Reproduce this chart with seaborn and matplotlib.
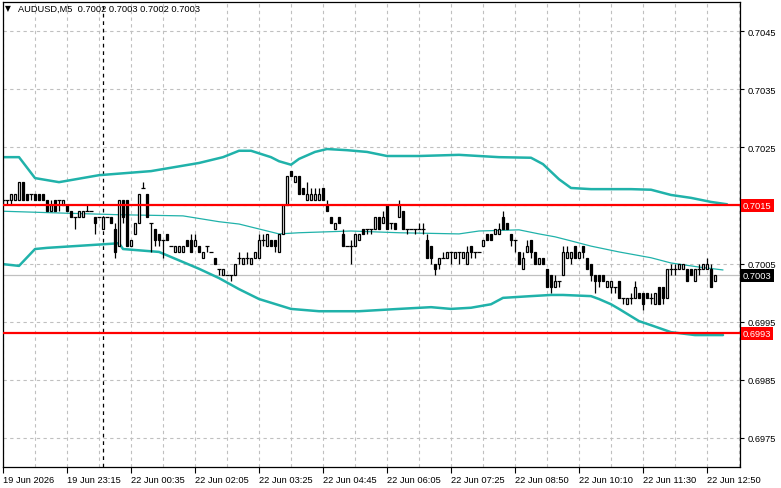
import numpy as np
import pandas as pd
import matplotlib
matplotlib.use("Agg")
import matplotlib.pyplot as plt
import seaborn as sns
from matplotlib.transforms import blended_transform_factory

# AUDUSD M5 candles, values in pips above 0.7000 (one entry per bar)
opens = [16,16,16,16,16,19,17,17,17,17, 17,16,14,16,16,15,15,14,13,13,
         13,14,14,13,13,11,13,13,11,8, 16,16,8,10,12,18,17,12,11,10,
         9,10,8,7,7,7,9,9,8,8, 6,8,7,6,4,3,3,3,3,6,
         5,6,5,6,6,9,8,9,9,7, 10,15,21,19,20,18,16,16,16,16,
         18,15,13,11,13,10,8,8,8,9, 11,11,11,11,13,12,15,12,12,13,
         14,11,11,11,11,11,9,8,5,5, 6,6,7,6,7,6,5,8,7,7,
         8,10,10,10,10,13,12,10,9,7, 4,7,9,7,5,6,4,3,1,2,
         3,6,6,8,6,8,6,5,3,3, 3,1,1,1,2,-1,-2,-1,-1,0,
         0,0,-1,-2,1,1,-1,4,4,4, 4,4,4,2,4,4,4,4,2]
highs = [16,16,17,17,19,19,17,17,17,17, 17,16,16,16,16,16,15,14,13,14,
         14,15,14,13,13,13,13,13,12,16, 16,16,9,12,17,19,17,12,11,10,
         9,10,8,8,8,8,9,10,10,8, 7,8,7,6,4,4,3,3,5,7,
         6,7,6,7,10,10,10,9,9,10, 15,20,21,20,20,18,19,18,18,18,
         18,16,13,12,13,11,8,9,10,10, 11,11,11,13,13,14,15,12,12,16,
         14,11,11,11,12,12,10,8,5,6, 7,7,7,7,7,7,8,8,7,7,
         9,10,10,11,12,14,12,10,9,7, 7,9,9,7,6,6,4,3,3,2,
         8,8,7,8,7,8,6,5,3,3, 3,2,2,1,2,-1,-1,0,2,0,
         0,0,0,0,1,1,4,5,5,5, 5,4,4,4,5,5,6,5,3]
lows = [15,15,15,16,16,16,16,16,16,16, 16,14,14,14,14,15,14,13,11,13,
        13,14,14,10,13,11,13,12,6,8, 12,8,8,10,12,18,13,7,8,8,
        6,9,8,7,7,7,8,7,8,7, 6,7,7,5,3,3,3,2,3,5,
        5,5,5,6,6,8,8,8,7,7, 10,15,20,19,17,17,16,16,16,16,
        16,14,12,11,12,8,8,5,8,9, 10,10,10,11,11,12,11,11,11,13,
        11,10,11,10,11,10,6,5,3,4, 6,6,5,6,5,6,5,6,6,7,
        8,9,9,10,10,11,11,8,7,5, 4,7,6,5,5,5,1,0,1,1,
        3,6,5,6,6,6,4,2,0,1, 2,1,0,0,-1,-2,-2,-2,-1,-1,
        -3,-1,-2,-2,-2,-2,-1,3,3,4, 4,2,3,2,3,4,4,1,2]
closes = [16,16,17,17,19,16,16,17,16,16, 16,14,15,14,16,16,14,13,13,14,
          14,14,14,12,13,13,13,12,7,16, 13,8,9,12,17,18,13,12,9,9,
          9,9,8,8,8,8,8,7,9,7, 7,8,7,5,4,4,3,3,5,6,
          6,6,6,7,9,9,10,8,8,10, 15,20,20,20,17,17,17,17,17,17,
          16,14,12,12,12,8,8,8,10,10, 10,11,11,13,11,13,11,12,11,15,
          11,11,11,11,11,11,6,6,4,6, 6,7,7,7,7,7,7,7,7,7,
          9,9,9,11,11,11,11,9,9,5, 6,8,7,5,6,5,1,1,2,2,
          7,7,7,6,7,7,4,3,2,2, 2,2,2,1,-1,-1,-1,-1,1,-1,
          -2,-1,-1,0,-2,-1,4,4,4,5, 5,2,3,4,4,5,5,1,3]

# Bollinger bands (bar index, price)
upper_bar = [0,4,8,14,24,37,49,55,59,62,67,69,72,74,78,81,86,91,96,104,114,124,132,135,139,142,147,157,162,167,172,177,181]
upper_val = [0.70233,0.70233,0.70197,0.70190,0.70202,0.70209,0.70223,0.70233,0.70244,0.70244,0.70233,0.70226,
             0.70220,0.70230,0.70242,0.70247,0.70245,0.70242,0.70235,0.70235,0.70237,0.70233,0.70232,0.70221,
             0.70195,0.70180,0.70178,0.70178,0.70177,0.70168,0.70163,0.70156,0.70152]
mid_bar = [0,14,29,45,54,59,69,74,87,99,114,119,129,134,138,142,147,154,162,167,174,180]
mid_val = [0.70140,0.70137,0.70134,0.70132,0.70122,0.70118,0.70101,0.70103,0.70106,0.70103,0.70101,
           0.70106,0.70108,0.70101,0.70096,0.70089,0.70080,0.70070,0.70060,0.70051,0.70044,0.70039]
lower_bar = [0,4,8,11,27,29,30,39,49,54,59,64,72,79,89,99,107,112,117,122,125,132,137,140,147,149,152,154,159,162,167,173,180]
lower_val = [0.70049,0.70046,0.70075,0.70077,0.70084,0.70085,0.70075,0.70070,0.70041,0.70025,0.70006,0.69989,
             0.69972,0.69968,0.69968,0.69972,0.69975,0.69972,0.69974,0.69980,0.69991,0.69994,0.69996,0.69996,
             0.69994,0.69989,0.69980,0.69972,0.69951,0.69944,0.69932,0.69927,0.69927]

# levels
resistance = 0.7015
support = 0.6993
bid = 0.7003

price_ticks = [0.6975, 0.6985, 0.6995, 0.7005, 0.7015, 0.7025, 0.7035, 0.7045]
time_tick_bars = [0, 16, 32, 48, 64, 80, 96, 112, 128, 144, 160, 176]
time_labels = ["19 Jun 2026", "19 Jun 23:15", "22 Jun 00:35", "22 Jun 02:05", "22 Jun 03:25",
               "22 Jun 04:45", "22 Jun 06:05", "22 Jun 07:25", "22 Jun 08:50", "22 Jun 10:10",
               "22 Jun 11:30", "22 Jun 12:50"]
day_separator_bar = 25
title = "AUDUSD,M5  0.7002 0.7003 0.7002 0.7003"

pip = 0.0001
base = 0.7000
candles = pd.DataFrame({
    "open": base + np.array(opens) * pip,
    "high": base + np.array(highs) * pip,
    "low": base + np.array(lows) * pip,
    "close": base + np.array(closes) * pip,
})
candles["bar"] = np.arange(len(candles))

bands = pd.concat([
    pd.DataFrame({"bar": upper_bar, "price": upper_val, "band": "upper"}),
    pd.DataFrame({"bar": mid_bar, "price": mid_val, "band": "middle"}),
    pd.DataFrame({"bar": lower_bar, "price": lower_val, "band": "lower"}),
])

sns.set_style("white")
plt.rcParams["font.family"] = ["Liberation Sans", "DejaVu Sans"]
fs = 6.7

fig = plt.figure(figsize=(7.81, 4.89), dpi=100)
ax = fig.add_axes([2.7 / 781, 21.3 / 489, 737.3 / 781, 465 / 489])

teal = "#20b2aa"
grid_col = "#c0c0c0"

# grid
for b in range(0, 185, 8):
    ax.axvline(b, color=grid_col, lw=0.8, ls=(0, (3, 3)), zorder=0)
for p in price_ticks:
    ax.axhline(p, color=grid_col, lw=0.8, ls=(0, (3, 3)), zorder=0)
ax.axvline(day_separator_bar, color="black", lw=0.9, ls=(0, (3, 3)), zorder=1)

# bid line
ax.axhline(bid, color=grid_col, lw=0.9, zorder=1)

# bollinger bands
sns.lineplot(data=bands[bands.band == "upper"], x="bar", y="price", color=teal, lw=1.8, ax=ax, zorder=2)
sns.lineplot(data=bands[bands.band == "middle"], x="bar", y="price", color=teal, lw=0.9, ax=ax, zorder=2)
sns.lineplot(data=bands[bands.band == "lower"], x="bar", y="price", color=teal, lw=1.8, ax=ax, zorder=2)

# candles
w = 0.6
ax.vlines(candles.bar, candles.low, candles.high, color="black", lw=0.9, zorder=3)
up = candles[candles.close > candles.open]
dn = candles[candles.close < candles.open]
dj = candles[candles.close == candles.open]
ax.bar(up.bar, up.close - up.open, bottom=up.open, width=w, color="white", edgecolor="black", lw=0.9, zorder=4)
ax.bar(dn.bar, dn.close - dn.open, bottom=dn.open, width=w, color="black", edgecolor="black", lw=0.9, zorder=4)
ax.hlines(dj.open, dj.bar - 0.42, dj.bar + 0.42, color="black", lw=0.9, zorder=4)

# horizontal levels
ax.axhline(resistance, color="red", lw=1.6, zorder=5)
ax.axhline(support, color="red", lw=1.6, zorder=5)

ax.set_xlim(-0.08, 184.25)
ax.set_ylim(0.697006, 0.705004)

ax.yaxis.tick_right()
ax.set_yticks(price_ticks)
# the 0.7015 scale label sits under the red level label
ax.set_yticklabels(["" if p == resistance else f"{p:.4f}" for p in price_ticks])
ax.set_xticks(time_tick_bars)
ax.set_xticklabels(time_labels, ha="left")
ax.tick_params(axis="y", which="major", right=True, length=3, width=0.8, pad=2.5, labelsize=fs, colors="black")
ax.tick_params(axis="x", which="major", bottom=True, length=4, width=0.8, pad=2, labelsize=fs, colors="black")
ax.set_xlabel("")
ax.set_ylabel("")
for s in ax.spines.values():
    s.set_color("black")
    s.set_linewidth(0.9)

# price labels on the right scale
tr = blended_transform_factory(ax.transAxes, ax.transData)
for val, col in [(resistance, "red"), (bid, "black"), (support, "red")]:
    ax.text(1.004, val, f"{val:.4f}", transform=tr, ha="left", va="center", fontsize=fs,
            color="white", zorder=10, clip_on=False,
            bbox=dict(boxstyle="square,pad=0.22", fc=col, ec="none"))

# symbol header
fig.text(5 / 781, 1 - 9 / 489, "\u25bc", fontsize=5.5, va="center", ha="left", color="black",
         family="DejaVu Sans")
fig.text(18 / 781, 1 - 9 / 489, title, fontsize=fs, va="center", ha="left", color="black")

fig.savefig("out.png", dpi=100)
